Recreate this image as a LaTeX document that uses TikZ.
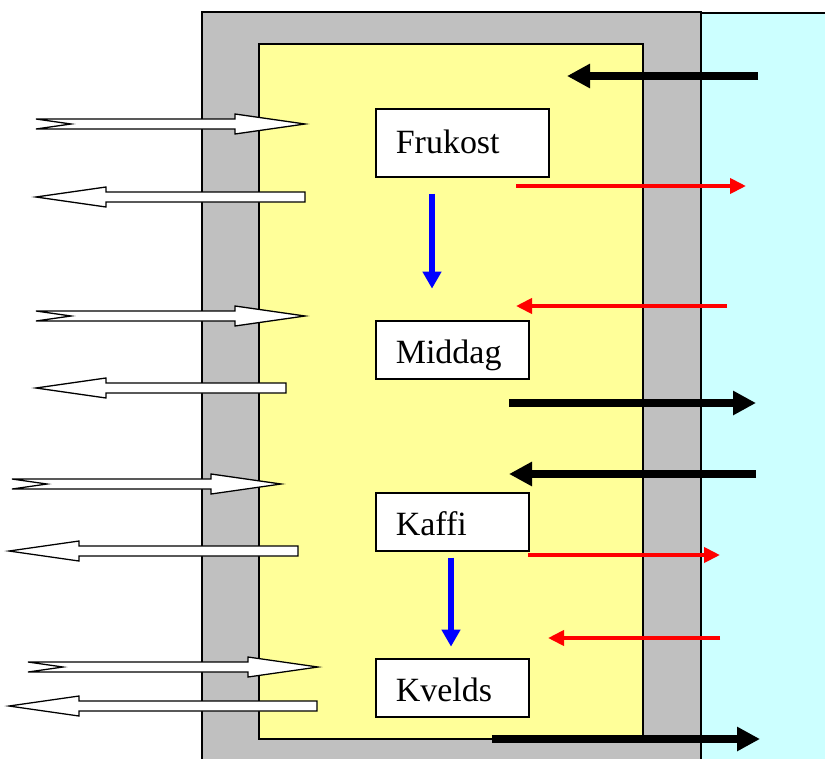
\documentclass[tikz,border=0pt]{standalone}
\usepackage{fontspec}
\setmainfont{Liberation Serif}
\usetikzlibrary{arrows.meta}
\definecolor{vegg}{HTML}{C0C0C0}
\definecolor{rom}{HTML}{FFFF99}
\definecolor{ute}{HTML}{CCFFFF}
\tikzset{
  maltid/.style={draw=black, fill=white, line width=1.4pt, anchor=north west, align=left,
              inner xsep=0.6cm, inner ysep=0pt, text height=0.84cm, text depth=0pt,
              text width=3.39cm, minimum height=1.74cm, font=\fontsize{29}{34}\selectfont},
  varme/.style={line width=6pt, black, -{Triangle[length=0.69cm, width=0.69cm]}},
  straling/.style={line width=3.3pt, red, -{Triangle[length=0.48cm, width=0.45cm]}},
  gang/.style={line width=5.2pt, blue, -{Triangle[length=0.51cm, width=0.54cm]}},
  luft/.style={draw=black, fill=white, line width=1.1pt, line join=miter},
  flate/.style={draw=black, line width=1.4pt},
}
% hul pil inn: hale, spiss, y
\newcommand{\luftinn}[3]{%
  \draw[luft] (#1,#3-5) -- (#2-70,#3-5) -- (#2-70,#3-10) -- (#2,#3) -- (#2-70,#3+10)
    -- (#2-70,#3+5) -- (#1,#3+5) -- (#1+35,#3) -- cycle;}
% hul pil ut: spiss, hale, y
\newcommand{\luftut}[3]{%
  \draw[luft] (#2,#3-5) -- (#1+70,#3-5) -- (#1+70,#3-10) -- (#1,#3) -- (#1+70,#3+10)
    -- (#1+70,#3+5) -- (#2,#3+5) -- cycle;}

\begin{document}
\begin{tikzpicture}[x=0.03cm, y=-0.03cm]
  \useasboundingbox (0,0) rectangle (825,758);
  \clip (0,0) rectangle (825,758);
  % ute, vegg og rom
  \fill[ute] (701,13) rectangle (840,780);
  \draw[flate] (840,13) -- (701,13) -- (701,780);
  \filldraw[fill=vegg, draw=black, line width=1.4pt] (202,12) rectangle (701,780);
  \filldraw[fill=rom, draw=black, line width=1.6pt] (259,44) rectangle (643,739);
  % luft inn og ut
  \luftinn{36}{305}{124}
  \luftut{36}{305}{197}
  \luftinn{36}{305}{316}
  \luftut{36}{286}{388}
  \luftinn{12}{281}{484}
  \luftut{9}{298}{551}
  \luftinn{28}{318}{667}
  \luftut{9}{317}{706}
  % maltider
  \node[maltid, text width=3.99cm, minimum height=2.04cm, text height=0.64cm] (Frukost) at (375,108) {Frukost};
  \node[maltid] (Middag) at (375,320) {Middag};
  \node[maltid] (Kaffi) at (375,492) {Kaffi};
  \node[maltid] (Kvelds) at (375,658) {Kvelds};
  \draw[gang] (Frukost.south west) ++(57,16) -- ++(0,95);
  \draw[gang] (Kaffi.south west) ++(76,6) -- ++(0,89);
  % stråling
  \draw[straling] (516,186) -- (746,186);
  \draw[straling] (727,306) -- (516,306);
  \draw[straling] (528,555) -- (720,555);
  \draw[straling] (720,638) -- (548,638);
  % varme
  \draw[varme] (758,76) -- (567,76);
  \draw[varme] (509,403) -- (756,403);
  \draw[varme] (756,474) -- (509,474);
  \draw[varme] (492,739) -- (760,739);
\end{tikzpicture}
\end{document}
